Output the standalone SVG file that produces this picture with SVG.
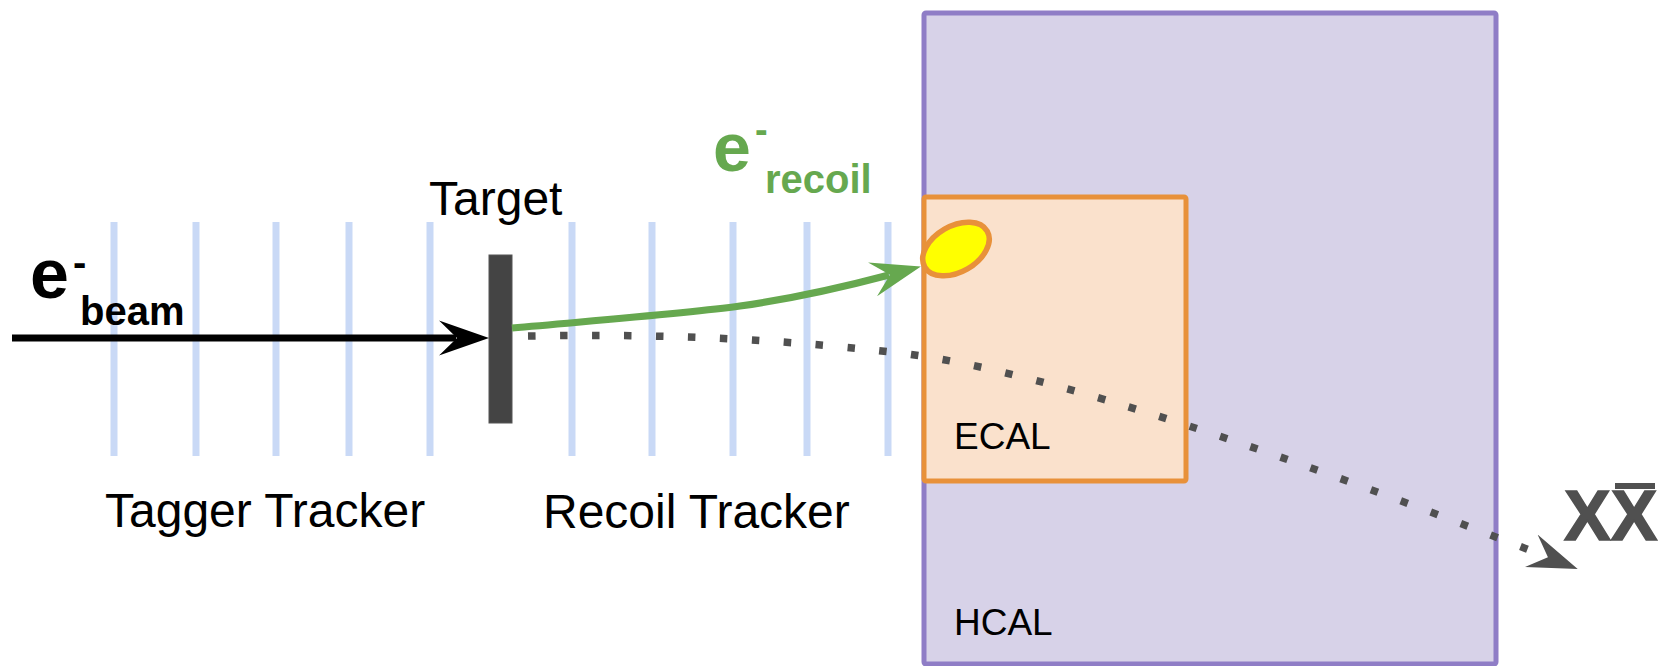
<svg xmlns="http://www.w3.org/2000/svg" width="1665" height="666" viewBox="0 0 1665 666">
  <style>
    text { font-family: "Liberation Sans", Arial, Helvetica, sans-serif; }
    .plane { stroke: #c9d9f6; stroke-width: 7; }
    .lbl { font-size: 48px; fill: #000; }
    .cal { font-size: 37px; fill: #000; }
    .bold { font-weight: bold; }
  </style>
  <defs>
    <!-- classic notched arrowhead; path ends at the notch -->
    <marker id="head-black" viewBox="0 0 50 36" refX="17" refY="18" markerWidth="50" markerHeight="36" markerUnits="userSpaceOnUse" orient="auto">
      <path d="M50,18 L0,0.5 L18,18 L0,35.5 Z" fill="#000"/>
    </marker>
    <marker id="head-green" viewBox="0 0 50 36" refX="17" refY="18" markerWidth="50" markerHeight="36" markerUnits="userSpaceOnUse" orient="auto">
      <path d="M50,18 L0,0.5 L18,18 L0,35.5 Z" fill="#66a84f"/>
    </marker>
    <marker id="head-grey" viewBox="0 0 50 36" refX="17" refY="18" markerWidth="50" markerHeight="36" markerUnits="userSpaceOnUse" orient="auto">
      <path d="M50,18 L0,0.5 L18,18 L0,35.5 Z" fill="#505050"/>
    </marker>
  </defs>

  <rect width="1665" height="666" fill="#ffffff"/>

  <!-- hadronic calorimeter -->
  <g id="hcal">
    <rect x="924" y="13" width="572" height="651" rx="2" fill="#d7d2e8" stroke="#8f7dc6" stroke-width="5"/>
    <text class="cal" x="954" y="635">HCAL</text>
  </g>

  <!-- electromagnetic calorimeter -->
  <g id="ecal">
    <rect x="924" y="197" width="262" height="284" rx="2" fill="#fae1cc" stroke="#e8913a" stroke-width="5"/>
    <text class="cal" x="954" y="449">ECAL</text>
  </g>

  <!-- tracker planes upstream of the target -->
  <g id="tagger-tracker">
    <line class="plane" x1="114" y1="222" x2="114" y2="456"/>
    <line class="plane" x1="196" y1="222" x2="196" y2="456"/>
    <line class="plane" x1="276" y1="222" x2="276" y2="456"/>
    <line class="plane" x1="349" y1="222" x2="349" y2="456"/>
    <line class="plane" x1="430" y1="222" x2="430" y2="456"/>
    <text class="lbl" x="105" y="527">Tagger Tracker</text>
  </g>

  <!-- tracker planes downstream of the target -->
  <g id="recoil-tracker">
    <line class="plane" x1="572" y1="222" x2="572" y2="456"/>
    <line class="plane" x1="652" y1="222" x2="652" y2="456"/>
    <line class="plane" x1="733" y1="222" x2="733" y2="456"/>
    <line class="plane" x1="807" y1="222" x2="807" y2="456"/>
    <line class="plane" x1="888" y1="222" x2="888" y2="456"/>
    <text class="lbl" x="543" y="528">Recoil Tracker</text>
  </g>

  <!-- target foil -->
  <g id="target">
    <rect x="489" y="255" width="23" height="168" fill="#444444" stroke="#555555" stroke-width="1"/>
    <text x="429" y="215" font-size="48" fill="#000">Target</text>
  </g>

  <!-- shower deposit of the recoil electron -->
  <g id="shower">
    <ellipse cx="956" cy="249" rx="36" ry="23" transform="rotate(-30 956 249)" fill="#ffff00" stroke="#e8913a" stroke-width="5.5"/>
  </g>

  <!-- particle trajectories -->
  <g id="connectors">
    <path d="M12,338 L456,338" fill="none" stroke="#000" stroke-width="7" marker-end="url(#head-black)"/>
    <path d="M512,328 C600,320 690,313 740,306 C790,299 840,288 889,275" fill="none" stroke="#66a84f" stroke-width="7" marker-end="url(#head-green)"/>
    <path d="M528,336 C650,334 760,337 900,353 C1050,371 1300,460 1547,557" fill="none" stroke="#505050" stroke-width="7.5" stroke-dasharray="7.5 24.5" marker-end="url(#head-grey)"/>
  </g>

  <!-- particle labels -->
  <g id="beam-label" class="bold">
    <text x="30" y="298" font-size="70" fill="#000">e</text>
    <text x="73" y="276" font-size="40" fill="#000">-</text>
    <text x="80" y="325" font-size="40" fill="#000">beam</text>
  </g>
  <g id="recoil-label" class="bold">
    <text x="713" y="171" font-size="68" fill="#66a84f">e</text>
    <text x="755" y="142.5" font-size="38" fill="#66a84f">-</text>
    <text x="765" y="193" font-size="40" fill="#66a84f">recoil</text>
  </g>
  <g id="dark-matter-label">
    <text x="1564" y="540" font-size="70" font-weight="bold" fill="#505050" stroke="#505050" stroke-width="1.5">XX</text>
    <!-- anti-particle bar over the second X -->
    <rect x="1615" y="483" width="40" height="6" fill="#505050"/>
  </g>
</svg>
